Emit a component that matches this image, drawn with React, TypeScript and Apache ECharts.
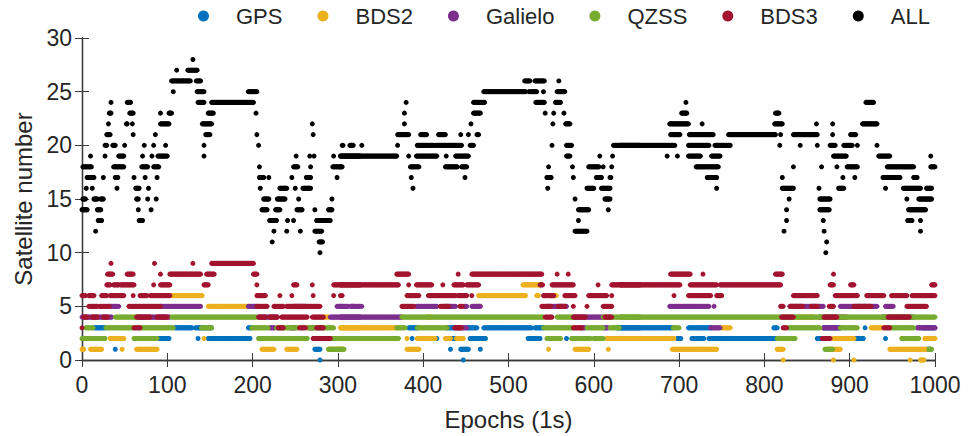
import React, { useEffect, useRef } from "react";
import * as echarts from "echarts";

type Run = [number, number, number]; // [startEpoch, endEpoch, satellite count]

const seriesNames = ["GPS", "BDS2", "Galielo", "QZSS", "BDS3", "ALL"];
const seriesColors = ["#0072BD", "#EDB120", "#7E2F8E", "#77AC30", "#A2142F", "#000000"];
const xAxisName = "Epochs (1s)";
const yAxisName = "Satellite number";

const gpsRuns: Run[] = [
  [14, 27, 3], [109, 129, 3], [133, 152, 3], [195, 199, 3],
  [88, 102, 2], [136, 136, 2], [148, 197, 2], [39, 39, 1], [273, 279, 1], [279, 279, 0],
  [383, 393, 3], [428, 436, 3], [451, 463, 3], [471, 527, 3], [531, 541, 3], [627, 654, 3],
  [387, 387, 2], [416, 416, 2], [433, 437, 2], [455, 473, 2], [523, 537, 2], [568, 568, 2], [580, 590, 2],
  [432, 432, 1], [444, 453, 1], [467, 467, 1], [447, 447, 0],
  [631, 692, 3], [711, 737, 3], [811, 815, 3], [869, 889, 3], [918, 918, 3], [985, 1000, 3],
  [698, 702, 2], [715, 729, 2], [735, 742, 2], [744, 813, 2], [862, 868, 2], [905, 916, 2], [942, 942, 2], [965, 978, 2],
  [990, 995, 1],
];

const bds2Runs: Run[] = [
  [105, 141, 6], [148, 195, 5], [283, 289, 4], [303, 326, 3], [33, 49, 2], [143, 143, 2],
  [0, 2, 1], [10, 23, 1], [47, 47, 1], [64, 88, 1], [211, 225, 1], [240, 252, 1], [289, 307, 1],
  [517, 537, 7], [465, 520, 6], [533, 535, 6], [548, 556, 6], [462, 467, 5], [405, 410, 4],
  [303, 369, 3], [381, 381, 2], [393, 414, 2], [426, 432, 2], [439, 447, 2], [615, 654, 2],
  [303, 305, 1], [381, 395, 1], [547, 547, 1], [578, 594, 1], [617, 617, 1],
  [838, 858, 4], [750, 760, 3], [925, 938, 3], [631, 694, 2], [881, 905, 2], [988, 1000, 2],
  [692, 744, 1], [815, 822, 1], [875, 889, 1], [947, 990, 1],
  [822, 822, 0], [881, 881, 0], [905, 905, 0], [971, 971, 0], [983, 987, 0],
];

const galileoRuns: Run[] = [
  [32, 43, 5], [92, 139, 5], [195, 205, 5], [248, 262, 5], [299, 304, 5], [308, 312, 5], [316, 326, 5],
  [0, 35, 4], [64, 103, 4], [207, 229, 4], [291, 326, 4], [220, 226, 3], [244, 250, 3], [266, 272, 3],
  [303, 307, 5], [315, 318, 5], [328, 328, 5], [392, 416, 5], [425, 438, 5], [448, 451, 5], [457, 467, 5], [545, 568, 5],
  [303, 375, 4], [576, 611, 4], [437, 451, 3], [585, 590, 3], [611, 617, 3],
  [689, 735, 5], [741, 741, 5], [830, 869, 5], [889, 932, 5], [942, 951, 5],
  [864, 897, 4], [938, 975, 4], [737, 748, 3], [869, 889, 3], [979, 1000, 3],
];

const qzssRuns: Run[] = [
  [39, 66, 4], [105, 205, 4], [4, 13, 3], [28, 61, 3], [68, 107, 3], [140, 152, 3], [199, 218, 3], [228, 254, 3], [264, 295, 3],
  [0, 27, 2], [61, 88, 2], [207, 264, 2], [291, 326, 2], [289, 307, 1],
  [375, 541, 4], [557, 576, 4], [611, 654, 4], [369, 379, 3], [393, 428, 3], [541, 576, 3], [592, 611, 3], [619, 630, 3],
  [303, 371, 2], [545, 561, 2], [574, 596, 2], [600, 611, 2],
  [631, 1000, 4], [693, 700, 3], [828, 865, 3], [889, 909, 3], [947, 975, 3], [815, 836, 2], [961, 981, 2],
  [871, 880, 1], [993, 996, 1],
];

const bds3Runs: Run[] = [
  [34, 34, 9], [85, 85, 9], [130, 130, 9], [152, 201, 9],
  [30, 36, 8], [53, 60, 8], [92, 92, 8], [103, 139, 8], [146, 155, 8], [201, 205, 8],
  [29, 33, 7], [37, 43, 7], [45, 61, 7], [84, 84, 7], [92, 103, 7], [143, 148, 7], [205, 205, 7], [248, 252, 7], [270, 270, 7], [295, 326, 7],
  [0, 4, 6], [8, 14, 6], [23, 29, 6], [33, 49, 6], [60, 60, 6], [68, 76, 6], [80, 103, 6], [205, 215, 6], [232, 232, 6], [246, 246, 6], [271, 271, 6], [295, 295, 6], [305, 305, 6],
  [8, 18, 5], [21, 32, 5], [55, 92, 5], [205, 217, 5], [225, 236, 5], [240, 279, 5],
  [2, 6, 4], [12, 18, 4], [25, 30, 4], [64, 80, 4], [88, 100, 4], [207, 215, 4], [220, 229, 4], [234, 264, 4], [270, 283, 4],
  [0, 0, 3], [61, 68, 3], [230, 236, 3], [255, 262, 3], [275, 283, 3], [271, 291, 2],
  [369, 383, 8], [441, 441, 8], [457, 539, 8], [557, 557, 8], [570, 570, 8],
  [303, 371, 7], [383, 383, 7], [392, 410, 7], [423, 423, 7], [436, 447, 7], [451, 465, 7], [537, 540, 7], [551, 576, 7], [605, 605, 7], [621, 654, 7],
  [303, 303, 6], [381, 395, 6], [406, 438, 6], [441, 451, 6], [457, 457, 6], [541, 553, 6], [566, 578, 6], [594, 615, 6], [621, 621, 6],
  [375, 389, 5], [420, 430, 5], [443, 446, 5], [539, 550, 5], [558, 566, 5], [576, 576, 5], [592, 592, 5], [611, 621, 5],
  [543, 551, 4], [576, 590, 4], [613, 621, 4], [437, 445, 3], [576, 586, 3],
  [690, 713, 8], [728, 728, 8], [813, 821, 8], [881, 881, 8],
  [631, 701, 7], [713, 744, 7], [748, 819, 7], [877, 881, 7], [901, 905, 7], [996, 1000, 7],
  [694, 694, 6], [711, 737, 6], [744, 750, 6], [834, 862, 6], [883, 909, 6], [920, 940, 6], [949, 967, 6], [973, 1000, 6],
  [819, 822, 5], [830, 845, 5], [855, 862, 5], [876, 881, 5], [905, 925, 5], [967, 990, 5],
  [820, 834, 4], [870, 885, 4], [945, 970, 4], [822, 826, 3], [940, 947, 3], [868, 877, 2],
];

const allRuns: Run[] = [
  [1, 11, 18], [10, 10, 19], [6, 14, 17], [5, 5, 16], [12, 12, 16], [1, 4, 15], [14, 18, 15], [22, 25, 15],
  [0, 6, 14], [18, 22, 14], [19, 23, 13], [16, 16, 12], [25, 25, 17], [27, 27, 19], [27, 29, 20],
  [29, 33, 21], [31, 31, 22], [32, 34, 23], [34, 34, 24], [36, 39, 20],
  [37, 49, 18], [39, 42, 17], [41, 41, 16], [43, 49, 19], [50, 50, 20],
  [52, 53, 22], [53, 57, 24], [56, 60, 23], [59, 59, 22], [60, 60, 21],
  [61, 61, 17], [63, 67, 16], [64, 66, 15], [66, 66, 14], [67, 71, 13],
  [70, 77, 18], [71, 71, 19], [73, 73, 20], [74, 74, 17], [77, 77, 15], [78, 78, 16],
  [81, 81, 14], [82, 82, 19], [84, 84, 20], [86, 86, 21], [84, 90, 18], [88, 88, 17], [87, 87, 15],
  [89, 100, 19], [98, 98, 20], [92, 102, 22], [92, 92, 23], [102, 105, 23], [107, 107, 25],
  [105, 127, 26], [111, 111, 27], [124, 135, 27], [130, 130, 28],
  [134, 139, 26], [135, 143, 25], [136, 143, 24],
  [141, 152, 22], [148, 154, 23], [145, 150, 21], [143, 143, 20], [143, 143, 19],
  [152, 201, 24], [195, 205, 25], [204, 204, 23], [205, 205, 21], [207, 207, 20],
  [208, 208, 18], [208, 213, 17], [209, 209, 16], [211, 217, 14], [213, 219, 15],
  [219, 219, 17], [220, 228, 13], [225, 225, 12], [223, 223, 11], [227, 232, 14],
  [229, 238, 15], [232, 240, 16], [240, 240, 12], [241, 241, 13],
  [246, 246, 17], [251, 251, 19], [248, 253, 18], [250, 250, 16], [252, 258, 14], [254, 254, 15], [256, 256, 12], [248, 248, 13],
  [259, 268, 16], [263, 268, 17], [268, 268, 18], [267, 267, 19], [270, 270, 22], [271, 271, 21],
  [272, 272, 19], [273, 273, 14], [273, 281, 12], [275, 291, 13], [278, 282, 11], [279, 279, 10],
  [289, 293, 14], [293, 293, 15], [294, 305, 18], [295, 295, 19], [299, 299, 17],
  [306, 306, 20], [314, 318, 20], [303, 326, 19],
  [305, 305, 20], [316, 316, 20], [328, 328, 20], [303, 369, 19], [303, 303, 18],
  [370, 370, 20], [370, 383, 21], [378, 378, 22], [378, 378, 23], [380, 380, 24], [383, 383, 19],
  [385, 395, 18], [386, 386, 17], [388, 388, 16],
  [397, 404, 21], [418, 426, 21], [393, 412, 20], [414, 445, 20], [392, 416, 19], [427, 427, 19], [438, 453, 19],
  [426, 440, 18], [445, 451, 18], [449, 449, 17],
  [444, 444, 21], [453, 453, 21], [463, 465, 21], [455, 459, 20], [456, 456, 22], [459, 467, 23], [459, 472, 24],
  [471, 520, 25], [524, 533, 25],
  [519, 525, 26], [531, 542, 26], [559, 559, 26], [541, 541, 25], [557, 566, 25], [532, 542, 24], [555, 561, 24],
  [543, 543, 23], [553, 553, 23], [565, 565, 23], [552, 552, 22], [567, 572, 22], [551, 551, 20], [568, 574, 20],
  [568, 572, 19], [547, 547, 18], [575, 575, 18], [545, 550, 17], [576, 576, 17], [546, 546, 16],
  [578, 578, 15], [582, 594, 14], [582, 582, 13], [578, 592, 12],
  [594, 606, 18], [611, 611, 18], [621, 621, 18], [607, 607, 19], [622, 622, 19], [603, 609, 17], [619, 620, 17],
  [592, 600, 16], [609, 619, 16], [613, 619, 15], [617, 617, 14],
  [623, 654, 20], [631, 695, 20], [686, 686, 19], [698, 698, 19],
  [689, 711, 22], [703, 709, 23], [708, 708, 24], [690, 701, 21], [712, 740, 21], [727, 727, 22],
  [711, 735, 20], [742, 760, 20], [711, 725, 19], [738, 748, 19], [720, 746, 18], [733, 744, 17], [744, 744, 16],
  [758, 813, 21],
  [813, 817, 23], [812, 821, 22], [819, 819, 21], [818, 818, 20], [821, 821, 17], [821, 834, 16], [829, 829, 15],
  [826, 826, 14], [826, 826, 13], [823, 823, 12], [834, 834, 18],
  [834, 862, 21], [842, 842, 20], [861, 861, 22],
  [862, 862, 20], [867, 867, 18], [864, 864, 16], [865, 877, 15], [865, 876, 14], [869, 869, 13], [870, 870, 12], [873, 873, 11], [872, 872, 10],
  [880, 880, 22], [877, 883, 20], [881, 896, 19], [885, 885, 18], [897, 909, 18], [892, 892, 17], [906, 906, 17], [887, 893, 16],
  [880, 880, 21], [901, 907, 21], [893, 903, 20], [909, 909, 20],
  [919, 928, 24], [915, 932, 22], [932, 932, 20], [934, 947, 19],
  [944, 975, 18], [939, 959, 17], [975, 979, 17], [942, 942, 16], [963, 983, 16], [990, 996, 16],
  [967, 967, 15], [981, 996, 15], [969, 989, 14], [968, 973, 13], [983, 983, 13], [983, 983, 12],
  [995, 1000, 18], [995, 995, 19],
];

const seriesRuns: Run[][] = [gpsRuns, bds2Runs, galileoRuns, qzssRuns, bds3Runs, allRuns];

function expandRuns(runs: Run[]): number[][] {
  const pts: number[][] = [];
  for (const [s, e, v] of runs) {
    for (let x = s; x <= e; x++) pts.push([x, v]);
  }
  return pts;
}

const FONT = "'Liberation Sans', Arial, Helvetica, sans-serif";
const TEXT = "#262626";
const AXIS = "#3a3a3a";

export default function App() {
  const ref = useRef<HTMLDivElement>(null);
  useEffect(() => {
    if (!ref.current) return;
    const chart = echarts.init(ref.current, null, { renderer: "svg" });
    const tickStyle = { show: true, inside: true, length: 7, lineStyle: { color: AXIS, width: 1 } };
    const lineStyle = { show: true, lineStyle: { color: AXIS, width: 1.3 } };
    chart.setOption({
      animation: false,
      backgroundColor: "#ffffff",
      textStyle: { fontFamily: FONT },
      legend: {
        data: seriesNames,
        left: 193,
        top: 0,
        icon: "circle",
        itemWidth: 11,
        itemHeight: 11,
        itemGap: 35,
        textStyle: { fontSize: 22, color: TEXT, fontFamily: FONT, padding: [9, 0, 0, 22] },
      },
      grid: { left: 82, right: 41, top: 38, bottom: 76 },
      xAxis: [
        {
          type: "value", min: 0, max: 1000, interval: 100,
          name: xAxisName, nameLocation: "middle", nameGap: 47,
          nameTextStyle: { fontSize: 24, color: TEXT, fontFamily: FONT },
          axisLine: lineStyle, axisTick: tickStyle,
          axisLabel: { fontSize: 23, color: TEXT, margin: 13, fontFamily: FONT, formatter: (v: number) => String(v) },
          splitLine: { show: false },
        },
        {
          type: "value", position: "top", min: 0, max: 1000, interval: 100,
          axisLine: lineStyle, axisTick: tickStyle, axisLabel: { show: false }, splitLine: { show: false },
        },
      ],
      yAxis: [
        {
          type: "value", min: 0, max: 30, interval: 5,
          name: yAxisName, nameLocation: "middle", nameGap: 44,
          nameTextStyle: { fontSize: 24, color: TEXT, fontFamily: FONT },
          axisLine: lineStyle, axisTick: tickStyle,
          axisLabel: { fontSize: 23, color: TEXT, margin: 10, fontFamily: FONT },
          splitLine: { show: false },
        },
        {
          type: "value", position: "right", min: 0, max: 30, interval: 5,
          axisLine: lineStyle, axisTick: tickStyle, axisLabel: { show: false }, splitLine: { show: false },
        },
      ],
      series: seriesNames.map((name, i) => ({
        name,
        type: "scatter",
        data: expandRuns(seriesRuns[i]),
        symbol: "circle",
        symbolSize: 5,
        itemStyle: { color: seriesColors[i], opacity: 1 },
        emphasis: { disabled: true },
        silent: true,
        z: 2 + i,
      })),
    });
    return () => chart.dispose();
  }, []);
  return <div ref={ref} style={{ position: "absolute", left: 0, top: 0, width: 976, height: 436 }} />;
}
